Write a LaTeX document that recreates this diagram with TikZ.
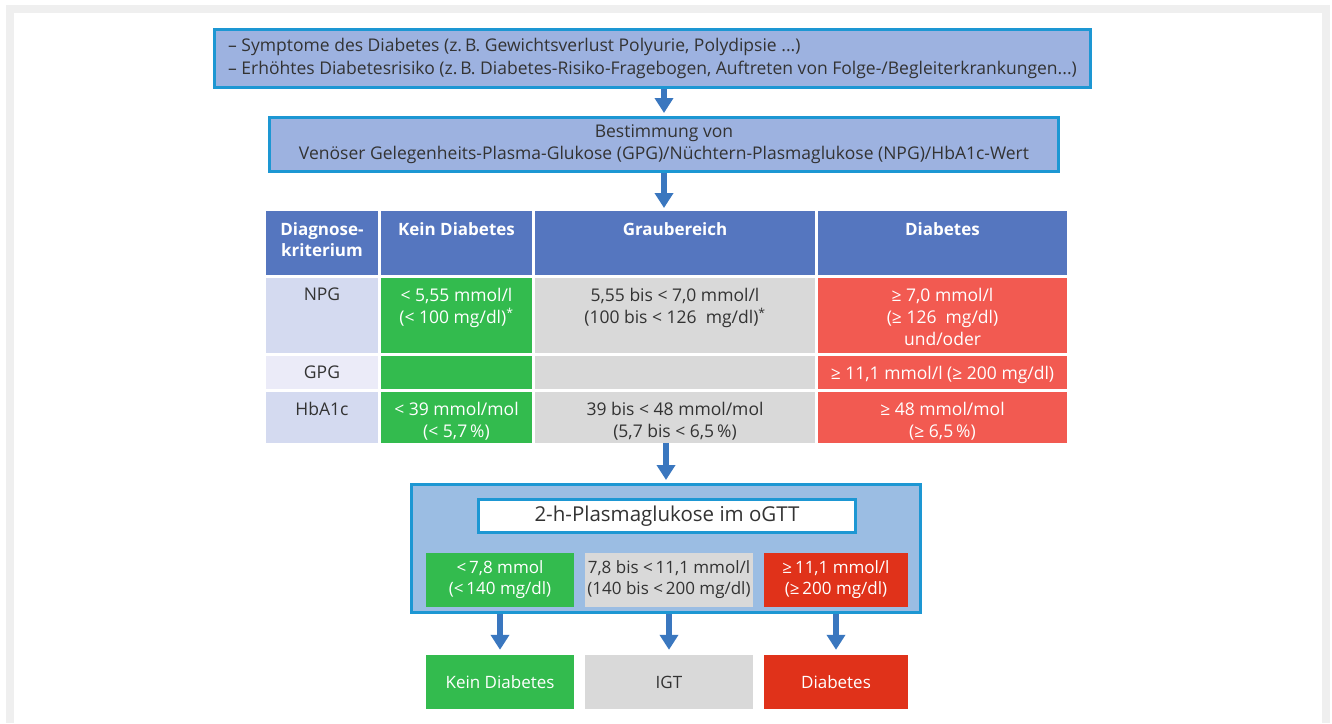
\documentclass[tikz,border=0pt]{standalone}
\usepackage{fontspec}
\setmainfont{Open Sans}
\usetikzlibrary{arrows.meta,positioning}

\definecolor{framegrey}{HTML}{EFEFEF}
\definecolor{boxline}{HTML}{1D97D3}
\definecolor{boxfill}{HTML}{9DB2E0}
\definecolor{ogttfill}{HTML}{9BBDE3}
\definecolor{arrowblue}{HTML}{3A77BF}
\definecolor{headblue}{HTML}{5576BF}
\definecolor{critfill}{HTML}{D4DAF0}
\definecolor{critlight}{HTML}{EBEBF8}
\definecolor{okgreen}{HTML}{33BB4E}
\definecolor{greyzone}{HTML}{D9D9D9}
\definecolor{tabred}{HTML}{F25A51}
\definecolor{diabred}{HTML}{E0321A}
\definecolor{darktext}{HTML}{333333}

\begin{document}
\begin{tikzpicture}[x=1pt,y=-1pt,text=darktext]
    \tikzstyle{flow}=[->,>={Triangle[width=18pt,length=15pt]},draw=arrowblue,line width=6pt,shorten >=3pt]
    \tikzstyle{stepbox}=[draw=boxline,line width=3pt,fill=boxfill,inner sep=0pt,align=center,font=\fontsize{17.5}{22}\selectfont]
    \tikzstyle{cell}=[anchor=north west,inner sep=0pt,outer sep=0pt]
    \tikzstyle{head}=[cell,fill=headblue,minimum height=64pt]
    \tikzstyle{celltext}=[anchor=north,inner sep=0pt,align=center,font=\fontsize{17.5}{22}\selectfont]
    \tikzstyle{headtext}=[celltext,text=white,font=\fontsize{17}{21}\selectfont\bfseries]
    \tikzstyle{result}=[inner sep=0pt,align=center,minimum height=54pt,font=\fontsize{17}{21}\selectfont]

    \useasboundingbox (0,0) rectangle (1332,723);
    \draw[framegrey,line width=8pt] (10,723) -- (10,9) -- (1326,9) -- (1326,723);

    % Anlass und Bestimmung
    \node[stepbox,minimum width=876pt,minimum height=58pt,align=left,font=\fontsize{17.5}{23}\selectfont] (sympt) at (652.5,58.5)
        {-- Symptome des Diabetes (z.\,B. Gewichtsverlust Polyurie, Polydipsie ...)\\-- Erhöhtes Diabetesrisiko (z.\,B. Diabetes-Risiko-Fragebogen, Auftreten von Folge-/Begleiterkrankungen...)};
    \node[stepbox,minimum width=789pt,minimum height=54pt] (bestimmung) at (664,144.5)
        {Bestimmung von\\Venöser Gelegenheits-Plasma-Glukose (GPG)/Nüchtern-Plasmaglukose (NPG)/HbA1c-Wert};

    % Tabelle: Kopfzeile
    \node[head,minimum width=112pt] (h-krit) at (266,211) {};
    \node[head,minimum width=151pt] (h-kein) at (381,211) {};
    \node[head,minimum width=280pt] (h-grau) at (535,211) {};
    \node[head,minimum width=249pt] (h-diab) at (818,211) {};
    % NPG
    \node[cell,fill=critfill,minimum width=112pt,minimum height=75pt] (n-krit) at (266,278) {};
    \node[cell,fill=okgreen,minimum width=151pt,minimum height=75pt] (n-kein) at (381,278) {};
    \node[cell,fill=greyzone,minimum width=280pt,minimum height=75pt] (n-grau) at (535,278) {};
    \node[cell,fill=tabred,minimum width=249pt,minimum height=75pt] (n-diab) at (818,278) {};
    % GPG
    \node[cell,fill=critlight,minimum width=112pt,minimum height=33pt] (g-krit) at (266,356) {};
    \node[cell,fill=okgreen,minimum width=151pt,minimum height=33pt] (g-kein) at (381,356) {};
    \node[cell,fill=greyzone,minimum width=280pt,minimum height=33pt] (g-grau) at (535,356) {};
    \node[cell,fill=tabred,minimum width=249pt,minimum height=33pt] (g-diab) at (818,356) {};
    % HbA1c
    \node[cell,fill=critfill,minimum width=112pt,minimum height=51pt] (a-krit) at (266,392) {};
    \node[cell,fill=okgreen,minimum width=151pt,minimum height=51pt] (a-kein) at (381,392) {};
    \node[cell,fill=greyzone,minimum width=280pt,minimum height=51pt] (a-grau) at (535,392) {};
    \node[cell,fill=tabred,minimum width=249pt,minimum height=51pt] (a-diab) at (818,392) {};

    % Tabelle: Texte
    \node[headtext] (h-krit-t) at ([yshift=-11pt]h-krit.north) {Diagnose-\\kriterium};
    \node[headtext] (h-kein-t) at ([yshift=-11pt]h-kein.north) {Kein Diabetes};
    \node[headtext] (h-grau-t) at ([yshift=-11pt]h-grau.north) {Graubereich};
    \node[headtext] (h-diab-t) at ([yshift=-11pt]h-diab.north) {Diabetes};
    \node[celltext] (n-krit-t) at ([yshift=-10pt]n-krit.north) {NPG};
    \node[celltext,text=white] (n-kein-t) at ([yshift=-10pt]n-kein.north) {< 5,55 mmol/l\\(< 100 mg/dl)\textsuperscript{*}};
    \node[celltext] (n-grau-t) at ([yshift=-10pt]n-grau.north) {5,55 bis < 7,0 mmol/l\\(100 bis < 126 \ mg/dl)\textsuperscript{*}};
    \node[celltext,text=white] (n-diab-t) at ([yshift=-10pt]n-diab.north) {≥ 7,0 mmol/l\\(≥ 126 \ mg/dl)\\und/oder};
    \node[celltext] (g-krit-t) at ([yshift=-10pt]g-krit.north) {GPG};
    \node[celltext,text=white] (g-diab-t) at ([yshift=-10pt]g-diab.north) {≥ 11,1 mmol/l (≥ 200 mg/dl)};
    \node[celltext] (a-krit-t) at ([yshift=-10pt]a-krit.north) {HbA1c};
    \node[celltext,text=white] (a-kein-t) at ([yshift=-10pt]a-kein.north) {< 39 mmol/mol\\(< 5,7\,\%)};
    \node[celltext] (a-grau-t) at ([yshift=-10pt]a-grau.north) {39 bis < 48 mmol/mol\\(5,7 bis < 6,5\,\%)};
    \node[celltext,text=white] (a-diab-t) at ([yshift=-10pt]a-diab.north) {≥ 48 mmol/mol\\(≥ 6,5\,\%)};

    % oGTT
    \node[stepbox,fill=ogttfill,minimum width=509pt,minimum height=128pt] (ogtt) at (666,548.5) {};
    \node[stepbox,fill=white,minimum width=377pt,minimum height=33pt,font=\fontsize{20.5}{25}\selectfont] (ogtt-title) at (667,516) {2-h-Plasmaglukose im oGTT};
    \node[result,fill=okgreen,text=white,minimum width=148pt] (o-kein) at (500,580) {<\,7,8 mmol\\(<\,140 mg/dl)};
    \node[result,fill=greyzone,minimum width=168pt] (o-igt) at (669,580) {7,8 bis <\,11,1 mmol/l\\(140 bis <\,200 mg/dl)};
    \node[result,fill=diabred,text=white,minimum width=144pt] (o-diab) at (836,580) {≥\,11,1 mmol/l\\(≥\,200 mg/dl)};

    % Ergebnis
    \node[result,fill=okgreen,text=white,minimum width=148pt] (r-kein) at (500,682) {Kein Diabetes};
    \node[result,fill=greyzone,minimum width=168pt] (r-igt) at (669,682) {IGT};
    \node[result,fill=diabred,text=white,minimum width=144pt] (r-diab) at (836,682) {Diabetes};

    % Pfeile
    \draw[flow] (bestimmung.north |- sympt.south) -- (bestimmung.north);
    \draw[flow] (bestimmung.south) -- (bestimmung.south |- h-grau.north);
    \draw[flow] (ogtt.north |- a-grau.south) -- (ogtt.north);
    \draw[flow,shorten >=5pt] (r-kein.north |- ogtt.south) -- (r-kein.north);
    \draw[flow,shorten >=5pt] (r-igt.north |- ogtt.south) -- (r-igt.north);
    \draw[flow,shorten >=5pt] (r-diab.north |- ogtt.south) -- (r-diab.north);
\end{tikzpicture}
\end{document}
